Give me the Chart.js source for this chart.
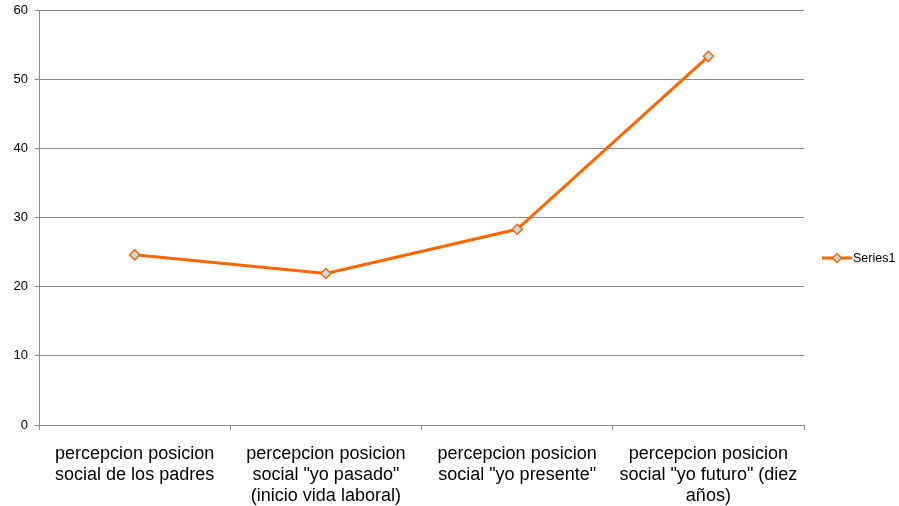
<!DOCTYPE html>
<html>
<head>
<meta charset="utf-8">
<script src="https://cdn.jsdelivr.net/npm/chart.js@4/dist/chart.umd.min.js"></script>
<style>
  html, body { margin: 0; padding: 0; background: #fff; }
  #wrap { width: 899px; height: 506px; }
</style>
</head>
<body>
<div id="wrap"><canvas id="lineChart" width="899" height="506"></canvas></div>
<script>
// Data
const categories = [
    ['percepcion posicion', 'social de los padres'],
    ['percepcion posicion', 'social "yo pasado"', '(inicio vida laboral)'],
    ['percepcion posicion', 'social "yo presente"'],
    ['percepcion posicion', 'social "yo futuro" (diez', 'años)']
];
const series1 = [24.6, 21.9, 28.3, 53.3];
const seriesName = 'Series1';
const yTicks = [0, 10, 20, 30, 40, 50, 60];

const lineColor = '#ff6600';
const markerFill = '#bde0e6';
const gridColor = '#8c8c8c';

// Legend with line + marker, drawn at the right
const sideLegend = {
    id: 'sideLegend',
    afterDraw(chart) {
        const ctx = chart.ctx;
        const y = 258;
        ctx.save();
        ctx.strokeStyle = lineColor;
        ctx.lineWidth = 3;
        ctx.beginPath();
        ctx.moveTo(822, y);
        ctx.lineTo(852, y);
        ctx.stroke();
        ctx.fillStyle = markerFill;
        ctx.lineWidth = 1.5;
        ctx.beginPath();
        ctx.moveTo(837, y - 4.5);
        ctx.lineTo(841.5, y);
        ctx.lineTo(837, y + 4.5);
        ctx.lineTo(832.5, y);
        ctx.closePath();
        ctx.fill();
        ctx.stroke();
        ctx.fillStyle = '#000';
        ctx.font = '12.5px "Liberation Sans", Arial, sans-serif';
        ctx.textBaseline = 'middle';
        ctx.fillText(seriesName, 853, y + 1);
        ctx.restore();
    }
};

new Chart(document.getElementById('lineChart'), {
    type: 'line',
    data: {
        labels: categories,
        datasets: [{
            label: seriesName,
            data: series1,
            borderColor: lineColor,
            borderWidth: 3,
            tension: 0,
            pointStyle: 'rectRot',
            pointRadius: 5,
            pointBackgroundColor: markerFill,
            pointBorderColor: lineColor,
            pointBorderWidth: 1.5
        }]
    },
    options: {
        responsive: false,
        animation: false,
        layout: { padding: { top: 10, right: 95, left: 0, bottom: 0 } },
        plugins: {
            legend: { display: false },
            tooltip: { enabled: false }
        },
        scales: {
            x: {
                offset: true,
                grid: {
                    offset: true,
                    drawOnChartArea: false,
                    drawTicks: true,
                    tickLength: 5,
                    color: gridColor
                },
                border: { display: true, color: gridColor, width: 1 },
                ticks: {
                    color: '#000',
                    maxRotation: 0,
                    autoSkip: false,
                    padding: 14,
                    font: { family: '"Liberation Sans", Arial, sans-serif', size: 18, lineHeight: 1.15 }
                },
                afterFit: function(scale) {
                    scale.height = 81;
                    scale.paddingLeft = 0;
                    scale.paddingRight = 0;
                }
            },
            y: {
                min: 0,
                max: 60,
                afterBuildTicks: function(scale) {
                    scale.ticks = yTicks.map(v => ({ value: v }));
                },
                grid: {
                    color: gridColor,
                    tickLength: 4,
                    lineWidth: 1
                },
                border: { display: true, color: gridColor, width: 1 },
                ticks: {
                    color: '#000',
                    padding: 7,
                    font: { family: '"Liberation Sans", Arial, sans-serif', size: 13 }
                },
                afterFit: function(scale) {
                    scale.width = 39;
                    scale.paddingTop = 0;
                    scale.paddingBottom = 0;
                }
            }
        }
    },
    plugins: [sideLegend]
});
</script>
</body>
</html>
